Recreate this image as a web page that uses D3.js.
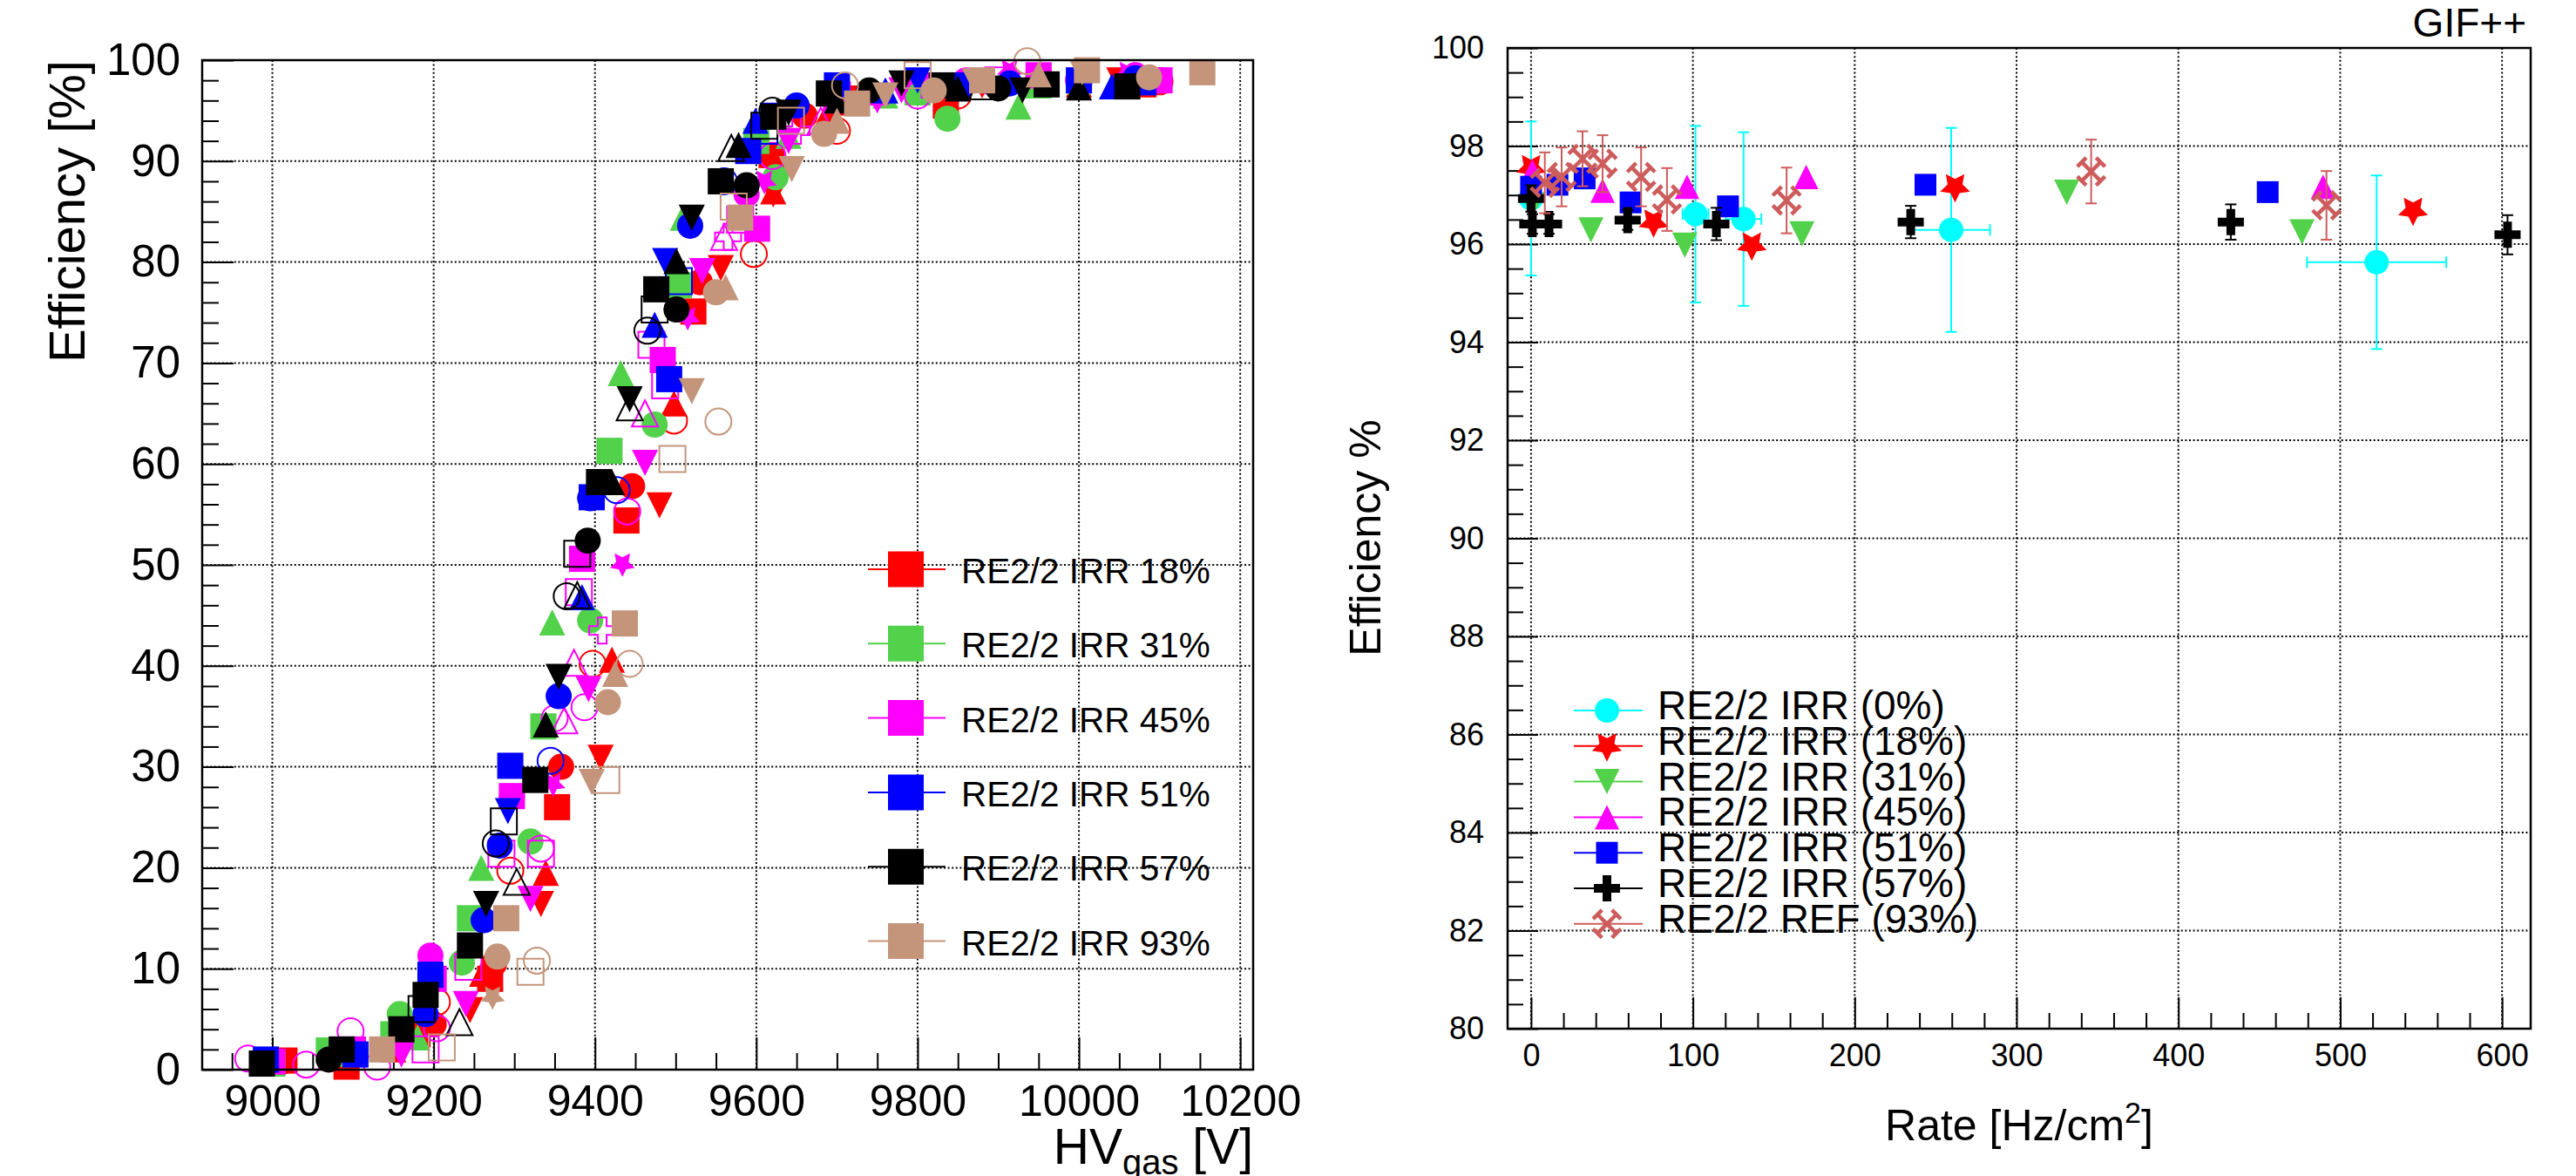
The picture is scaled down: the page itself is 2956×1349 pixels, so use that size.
<!DOCTYPE html>
<html lang="en">
<head>
<meta charset="utf-8">
<title>RE2/2 efficiency</title>
<script src="https://d3js.org/d3.v7.min.js"></script>
<style>
  body { margin: 0; background: #fff; }
  text { font-family: "Liberation Sans", Arial, Helvetica, sans-serif; fill: #000; }
</style>
</head>
<body>
<script>

// ---------- left panel: efficiency vs HV_gas, one array per scan [HV, eff] ----------
var irr18_sq = [[9015,0.9],[9092,0.3],[9180,3.5],[9270,9.0],[9353,26.0],[9439,54.4],[9522,75.1],[9619,90.6],[9700,95.8],[9835,95.5],[9950,97.8],[10080,97.6]];
var irr18_td = [[9100,1.2],[9245,5.9],[9333,16.4],[9407,30.9],[9480,55.9],[9556,79.4],[9621,86.7],[9720,96.2],[9880,97.5],[10050,98.0]];
var irr18_tu = [[9150,2.0],[9260,9.5],[9339,19.5],[9421,40.6],[9498,66.0],[9621,87.0],[9690,95.0],[9850,97.3],[10000,97.6]];
var irr18_ci = [[9200,4.5],[9275,10.5],[9358,30.0],[9446,57.8],[9530,78.0],[9660,94.5],[9800,97.0],[9950,98.2],[10090,98.1]];
var irr18_oc = [[9010,0.8],[9204,6.7],[9295,19.7],[9397,40.2],[9498,64.3],[9597,80.8],[9700,93.0],[9850,96.5],[10100,97.9]];

var irr31_sq = [[9000,0.6],[9070,1.9],[9150,3.5],[9245,15.0],[9336,34.0],[9418,61.3],[9504,77.7],[9600,92.0],[9700,96.5],[9800,96.8],[9950,97.5],[10080,98.0]];
var irr31_ci = [[9090,1.5],[9158,5.5],[9235,10.6],[9320,22.6],[9394,44.5],[9474,63.9],[9624,88.4],[9837,94.2],[10000,97.3]];
var irr31_tu = [[9180,3.2],[9259,20.0],[9347,44.3],[9432,69.0],[9509,84.4],[9640,92.5],[9760,96.5],[9925,95.4],[10080,98.3]];

var irr45_sq = [[9000,0.8],[9100,2.0],[9200,9.0],[9297,27.1],[9384,50.6],[9484,70.3],[9601,83.3],[9700,96.0],[9820,97.5],[9950,98.5],[10100,98.0]];
var irr45_oc = [[8970,1.1],[9042,0.5],[9097,3.8],[9130,0.3],[9204,4.1],[9333,21.9],[9350,34.8],[9387,35.9],[9440,55.3],[9620,90.5],[9800,96.5],[10000,98.0]];
var irr45_td = [[9160,1.5],[9240,6.5],[9320,16.9],[9392,37.7],[9462,60.1],[9533,79.1],[9640,92.0],[9780,97.0],[9950,98.3]];
var irr45_os = [[9190,2.0],[9243,10.2],[9284,21.4],[9333,21.4],[9380,47.3],[9470,71.8],[9487,67.8],[9580,84.2],[9700,96.5],[9900,98.0]];
var irr45_st = [[9348,28.3],[9434,50.1],[9515,74.5],[9610,88.0],[9750,96.0],[9914,99.0],[10060,98.8]];
var irr45_ot = [[9362,34.6],[9374,40.3],[9462,65.0],[9560,82.5],[9680,94.0]];
var irr45_ci = [[9196,11.3],[9297,27.0],[9588,86.7],[9860,98.0],[10070,98.5]];
var irr45_ox = [[9409,43.5],[9565,82.5],[9650,93.0]];

var irr51_sq = [[8992,1.0],[9103,1.5],[9196,9.4],[9295,30.1],[9396,56.7],[9492,68.4],[9590,91.0],[9700,97.5],[9850,97.5],[10000,98.0],[10080,97.8]];
var irr51_ci = [[9190,5.5],[9262,14.8],[9282,22.2],[9355,37.0],[9394,56.6],[9518,83.6],[9650,95.5],[9914,97.7],[10070,98.2]];
var irr51_tu = [[9100,2.0],[9384,46.8],[9474,73.8],[9599,94.0],[9760,97.0],[10041,97.4]];
var irr51_td = [[9292,25.6],[9487,80.1],[9620,94.5],[9800,98.0],[10010,98.4]];
var irr51_oc = [[9345,30.6],[9427,57.4],[9560,88.0]];
var irr51_os = [[9504,78.1],[9610,93.0]];

var irr57_sq = [[8987,0.6],[9086,2.0],[9160,4.0],[9190,7.4],[9245,12.3],[9326,28.7],[9405,58.2],[9476,77.3],[9556,88.0],[9621,94.4],[9690,96.7],[9830,97.5],[9960,97.6],[10060,97.4]];
var irr57_ci = [[9070,1.0],[9391,52.4],[9501,75.3],[9588,87.6],[9740,97.0],[9900,97.2]];
var irr57_tu = [[9339,34.2],[9421,58.2],[9501,80.1],[9578,91.6],[9700,96.0],[9850,97.2],[10000,97.3]];
var irr57_td = [[9265,16.4],[9355,38.9],[9443,66.4],[9520,84.4],[9640,94.8],[9780,97.7],[9930,97.0]];
var irr57_ot = [[9232,4.7],[9303,18.6],[9378,47.0],[9443,65.6],[9569,91.3],[9880,97.4]];
var irr57_oc = [[9277,22.4],[9365,46.9],[9465,73.2],[9620,95.0]];
var irr57_os = [[9185,6.0],[9287,24.6],[9378,51.1],[9474,75.3],[9610,93.5]];

var irr93_sq = [[9136,2.0],[9290,15.0],[9437,44.2],[9580,84.4],[9725,95.7],[9880,98.0],[10010,99.0],[10153,98.8]];
var irr93_ci = [[9279,11.2],[9416,36.4],[9550,77.0],[9684,92.7],[9820,97.0],[10087,98.3]];
var irr93_td = [[9396,28.5],[9520,67.2],[9644,89.2],[9760,96.5],[9871,97.9],[10004,98.8]];
var irr93_tu = [[9425,39.2],[9562,77.5],[9700,94.0],[9950,98.6]];
var irr93_os = [[9210,2.2],[9320,9.7],[9414,28.7],[9496,60.5],[9572,85.5],[9643,94.0],[9800,98.5]];
var irr93_oc = [[9328,10.8],[9443,40.2],[9553,64.2],[9710,97.5],[9936,99.9]];
var irr93_st = [[9273,7.2]];

var leftLegend = ["RE2/2 IRR 18%", "RE2/2 IRR 31%", "RE2/2 IRR 45%", "RE2/2 IRR 51%", "RE2/2 IRR 57%", "RE2/2 IRR 93%"];
var hvTicks = [9000, 9200, 9400, 9600, 9800, 10000, 10200];
var effTicksL = [0, 10, 20, 30, 40, 50, 60, 70, 80, 90, 100];

// ---------- right panel: efficiency vs rate ----------
var rate0  = [0, 101.6, 131.3, 259.6, 522.5];
var eff0   = [96.93, 96.61, 96.51, 96.29, 95.63];
var err0   = [1.57, 1.8, 1.77, 2.08, 1.77];
var xerr0  = [6, 8, 11, 24, 43];
var rate18 = [0, 75.7, 136.4, 262, 545];
var eff18  = [97.56, 96.45, 95.98, 97.17, 96.69];
var rate31 = [0.8, 37, 95, 167.4, 331, 476.4];
var eff31  = [96.8, 96.29, 95.98, 96.21, 97.06, 96.25];
var rate45 = [0.8, 44.2, 96.4, 170, 489.4];
var eff45  = [97.48, 97.09, 97.17, 97.37, 97.17];
var rate51 = [0, 16.3, 33.1, 61.5, 121.7, 243.7, 455.2];
var eff51  = [97.17, 97.21, 97.34, 96.85, 96.77, 97.21, 97.06];
var rate57 = [0, 0.8, 11.1, 59.7, 114.5, 234.6, 432.4, 603.4];
var eff57  = [96.93, 96.41, 96.41, 96.49, 96.41, 96.45, 96.45, 96.19];
var err57  = [0.27, 0.2, 0.2, 0.2, 0.33, 0.33, 0.36, 0.4];
var rate93 = [8.5, 18.9, 31.8, 44.2, 68, 84, 157.9, 346.1, 491.5];
var eff93  = [97.25, 97.37, 97.74, 97.64, 97.37, 96.91, 96.89, 97.48, 96.79];
var err93  = [0.62, 0.6, 0.56, 0.58, 0.6, 0.64, 0.67, 0.65, 0.7];

var rightLegend = ["RE2/2 IRR (0%)", "RE2/2 IRR (18%)", "RE2/2 IRR (31%)", "RE2/2 IRR (45%)", "RE2/2 IRR (51%)", "RE2/2 IRR (57%)", "RE2/2 REF (93%)"];
var rateTicks = [0, 100, 200, 300, 400, 500, 600];
var effTicksR = [80, 82, 84, 86, 88, 90, 92, 94, 96, 98, 100];

// colours
var cRed = "#ff0000", cGreen = "#52d14a", cMag = "#ff00ff", cBlue = "#0000ff",
    cBlack = "#000000", cBrown = "#c4957b", cCyan = "#00ffff", cRef = "#cd5c5c";

// ---------- marker shapes (ROOT-like) ----------
function markerPath(m, s) {
  var h = s / 2;
  if (m == "sq" || m == "os") return "M" + (-h) + "," + (-h) + "H" + h + "V" + h + "H" + (-h) + "Z";
  if (m == "ci" || m == "oc") return d3.symbol(d3.symbolCircle, Math.PI * h * h)();
  if (m == "tu" || m == "ot") return "M0," + (-h) + "L" + h + "," + h + "L" + (-h) + "," + h + "Z";
  if (m == "td") return "M0," + h + "L" + h + "," + (-h) + "L" + (-h) + "," + (-h) + "Z";
  if (m == "st") {
    var p = [];
    for (var k = 0; k < 10; k++) {
      var a = Math.PI / 2 + k * Math.PI / 5, r = k % 2 ? h * 0.5 : h;
      p.push([r * Math.cos(a), r * Math.sin(a)]);
    }
    return "M" + p.join("L") + "Z";
  }
  if (m == "cr" || m == "ox") {
    var t = s / 6;
    return "M" + (-t) + "," + (-h) + "H" + t + "V" + (-t) + "H" + h + "V" + t + "H" + t + "V" + h +
      "H" + (-t) + "V" + t + "H" + (-h) + "V" + (-t) + "H" + (-t) + "Z";
  }
  if (m == "as") {
    var r = h * 0.72, c = s * 0.17, d = "";
    [[1,1],[1,-1],[-1,1],[-1,-1]].forEach(function (q) {
      var ex = q[0] * r, ey = q[1] * r;
      d += "M0,0L" + ex + "," + ey;
      d += "M" + (ex - q[0] * c) + "," + (ey + q[1] * c) + "L" + (ex + q[0] * c) + "," + (ey - q[1] * c);
    });
    return d;
  }
}

function drawMarker(g, m, x, y, s, col) {
  var open = (m == "oc" || m == "os" || m == "ot" || m == "ox");
  var p = g.append("path").attr("d", markerPath(m, s)).attr("transform", "translate(" + x + "," + y + ")");
  if (m == "as") p.attr("fill", "none").attr("stroke", col).attr("stroke-width", 4.5);
  else if (open) p.attr("fill", "none").attr("stroke", col).attr("stroke-width", 2);
  else p.attr("fill", col);
}

var svg = d3.select("body").append("svg")
    .attr("width", 2956)
    .attr("height", 1349);

function styleAxis(g, size) {
  g.select(".domain").remove();
  g.selectAll("line").attr("stroke", "#000").attr("stroke-width", 2);
  g.selectAll("text").style("font-size", size + "px").attr("fill", "#000");
}

function grid(g, x, y, xt, yt, box) {
  g.selectAll(".gx").data(xt).enter().append("line")
      .attr("x1", d => x(d)).attr("x2", d => x(d))
      .attr("y1", box.top).attr("y2", box.bottom);
  g.selectAll(".gy").data(yt).enter().append("line")
      .attr("y1", d => y(d)).attr("y2", d => y(d))
      .attr("x1", box.left).attr("x2", box.right);
  g.selectAll("line").attr("stroke", "#000").attr("stroke-width", 2).attr("stroke-dasharray", "2,2.6");
}

// ====================== LEFT PANEL ======================
var L = {left: 232, right: 1438, top: 69, bottom: 1227};
var xL = d3.scaleLinear().domain([8913, 10216]).range([L.left, L.right]);
var yL = d3.scaleLinear().domain([0, 100]).range([L.bottom, L.top]);

grid(svg.append("g"), xL, yL, hvTicks, effTicksL.slice(1, -1), L);

var hvMinor = d3.range(8950, 10216, 50).filter(v => hvTicks.indexOf(v) < 0);
var effMinorL = d3.range(0, 101, 2).filter(v => v % 10 != 0);

svg.append("g").attr("transform", "translate(0," + L.bottom + ")")
    .call(d3.axisBottom(xL).tickValues(hvTicks).tickSize(-37).tickPadding(17).tickFormat(d3.format("d")))
    .call(g => styleAxis(g, 50));
svg.append("g").attr("transform", "translate(0," + L.bottom + ")")
    .call(d3.axisBottom(xL).tickValues(hvMinor).tickSize(-19).tickFormat(""))
    .call(g => styleAxis(g, 50));
svg.append("g").attr("transform", "translate(" + L.left + ",0)")
    .call(d3.axisLeft(yL).tickValues(effTicksL).tickSize(-36).tickPadding(25).tickFormat(d3.format("d")))
    .call(g => styleAxis(g, 51));
svg.append("g").attr("transform", "translate(" + L.left + ",0)")
    .call(d3.axisLeft(yL).tickValues(effMinorL).tickSize(-19).tickFormat(""))
    .call(g => styleAxis(g, 50));

var scans = [
  [irr18_sq, cRed, "sq"], [irr18_td, cRed, "td"], [irr18_tu, cRed, "tu"], [irr18_ci, cRed, "ci"], [irr18_oc, cRed, "oc"],
  [irr31_sq, cGreen, "sq"], [irr31_ci, cGreen, "ci"], [irr31_tu, cGreen, "tu"],
  [irr45_sq, cMag, "sq"], [irr45_oc, cMag, "oc"], [irr45_td, cMag, "td"], [irr45_os, cMag, "os"],
  [irr45_st, cMag, "st"], [irr45_ot, cMag, "ot"], [irr45_ci, cMag, "ci"], [irr45_ox, cMag, "ox"],
  [irr51_sq, cBlue, "sq"], [irr51_ci, cBlue, "ci"], [irr51_tu, cBlue, "tu"], [irr51_td, cBlue, "td"],
  [irr51_oc, cBlue, "oc"], [irr51_os, cBlue, "os"],
  [irr57_sq, cBlack, "sq"], [irr57_ci, cBlack, "ci"], [irr57_tu, cBlack, "tu"], [irr57_td, cBlack, "td"],
  [irr57_ot, cBlack, "ot"], [irr57_oc, cBlack, "oc"], [irr57_os, cBlack, "os"],
  [irr93_sq, cBrown, "sq"], [irr93_ci, cBrown, "ci"], [irr93_td, cBrown, "td"], [irr93_tu, cBrown, "tu"],
  [irr93_os, cBrown, "os"], [irr93_oc, cBrown, "oc"], [irr93_st, cBrown, "st"]
];

var gL = svg.append("g");
scans.forEach(function (sc) {
  sc[0].forEach(function (p) {
    drawMarker(gL, sc[2], xL(p[0]), yL(p[1]), 30, sc[1]);
  });
});

svg.append("rect").attr("x", L.left).attr("y", L.top)
    .attr("width", L.right - L.left).attr("height", L.bottom - L.top)
    .attr("fill", "none").attr("stroke", "#000").attr("stroke-width", 2.5);

// legend
var legColsL = [cRed, cGreen, cMag, cBlue, cBlack, cBrown];
leftLegend.forEach(function (t, i) {
  var cy = 653 + i * 85.3;
  svg.append("line").attr("x1", 996).attr("x2", 1085).attr("y1", cy).attr("y2", cy)
      .attr("stroke", legColsL[i]).attr("stroke-width", 2);
  drawMarker(svg, "sq", 1039.5, cy, 41, legColsL[i]);
  svg.append("text").attr("x", 1103).attr("y", cy + 16).style("font-size", "40.5px").text(t);
});

// titles
svg.append("text").attr("transform", "translate(97,69) rotate(-90)")
    .attr("text-anchor", "end").style("font-size", "58px").text("Efficiency [%]");
svg.append("text").attr("x", L.right).attr("y", 1335).attr("text-anchor", "end").style("font-size", "57px")
    .call(function (t) {
      t.append("tspan").text("HV");
      t.append("tspan").attr("dy", 12).style("font-size", "40px").text("gas");
      t.append("tspan").attr("dy", -12).text(" [V]");
    });

// ====================== RIGHT PANEL ======================
var R = {left: 1730, right: 2904, top: 55, bottom: 1180};
var xR = d3.scaleLinear().domain([-14.5, 617.7]).range([R.left, R.right]);
var yR = d3.scaleLinear().domain([80, 100]).range([R.bottom, R.top]);

grid(svg.append("g"), xR, yR, rateTicks, effTicksR.slice(1, -1), R);

var rateMinor = d3.range(0, 617, 20).filter(v => v % 100 != 0);
var effMinorR = d3.range(80, 100.01, 0.5).filter(v => v % 2 != 0);

svg.append("g").attr("transform", "translate(0," + R.bottom + ")")
    .call(d3.axisBottom(xR).tickValues(rateTicks).tickSize(-36).tickPadding(17).tickFormat(d3.format("d")))
    .call(g => styleAxis(g, 36));
svg.append("g").attr("transform", "translate(0," + R.bottom + ")")
    .call(d3.axisBottom(xR).tickValues(rateMinor).tickSize(-18).tickFormat(""))
    .call(g => styleAxis(g, 36));
svg.append("g").attr("transform", "translate(" + R.left + ",0)")
    .call(d3.axisLeft(yR).tickValues(effTicksR).tickSize(-35).tickPadding(27).tickFormat(d3.format("d")))
    .call(g => styleAxis(g, 36));
svg.append("g").attr("transform", "translate(" + R.left + ",0)")
    .call(d3.axisLeft(yR).tickValues(effMinorR).tickSize(-18).tickFormat(""))
    .call(g => styleAxis(g, 36));

var gR = svg.append("g");

function errBars(xs, ys, ye, xe, col) {
  xs.forEach(function (x, i) {
    var px = xR(x), py = yR(ys[i]);
    if (ye && ye[i]) {
      var y1 = yR(ys[i] + ye[i]), y2 = yR(ys[i] - ye[i]);
      gR.append("line").attr("x1", px).attr("x2", px).attr("y1", y1).attr("y2", y2)
          .attr("stroke", col).attr("stroke-width", 2);
      [y1, y2].forEach(function (yy) {
        gR.append("line").attr("x1", px - 6.5).attr("x2", px + 6.5).attr("y1", yy).attr("y2", yy)
            .attr("stroke", col).attr("stroke-width", 2);
      });
    }
    if (xe && xe[i]) {
      var x1 = xR(x - xe[i]), x2 = xR(x + xe[i]);
      gR.append("line").attr("x1", x1).attr("x2", x2).attr("y1", py).attr("y2", py)
          .attr("stroke", col).attr("stroke-width", 2);
      [x1, x2].forEach(function (xx) {
        gR.append("line").attr("x1", xx).attr("x2", xx).attr("y1", py - 6.5).attr("y2", py + 6.5)
            .attr("stroke", col).attr("stroke-width", 2);
      });
    }
  });
}

function points(xs, ys, m, s, col) {
  xs.forEach(function (x, i) { drawMarker(gR, m, xR(x), yR(ys[i]), s, col); });
}

var rightSeries = [
  [rate0, eff0, err0, xerr0, "ci", 28, cCyan],
  [rate18, eff18, null, null, "st", 36, cRed],
  [rate31, eff31, null, null, "td", 29, cGreen],
  [rate45, eff45, null, null, "tu", 28, cMag],
  [rate51, eff51, null, null, "sq", 25, cBlue],
  [rate57, eff57, err57, null, "cr", 30, cBlack],
  [rate93, eff93, err93, null, "as", 30, cRef]
];
rightSeries.forEach(function (s) {
  errBars(s[0], s[1], s[2], s[3], s[6]);
  points(s[0], s[1], s[4], s[5], s[6]);
});

svg.append("rect").attr("x", R.left).attr("y", R.top)
    .attr("width", R.right - R.left).attr("height", R.bottom - R.top)
    .attr("fill", "none").attr("stroke", "#000").attr("stroke-width", 2.5);

// legend
rightSeries.forEach(function (s, i) {
  var cy = 815 + i * 40.8;
  svg.append("line").attr("x1", 1806).attr("x2", 1885).attr("y1", cy).attr("y2", cy)
      .attr("stroke", s[6]).attr("stroke-width", 2);
  drawMarker(svg, s[4], 1844, cy, s[5], s[6]);
  svg.append("text").attr("x", 1902).attr("y", cy + 10).style("font-size", "46px").text(rightLegend[i]);
});

// titles
svg.append("text").attr("transform", "translate(1584,617) rotate(-90)")
    .attr("text-anchor", "middle").style("font-size", "50px").text("Efficiency %");
svg.append("text").attr("x", (R.left + R.right) / 2).attr("y", 1308).attr("text-anchor", "middle")
    .style("font-size", "50px")
    .call(function (t) {
      t.append("tspan").text("Rate [Hz/cm");
      t.append("tspan").attr("dy", -20).style("font-size", "34px").text("2");
      t.append("tspan").attr("dy", 20).text("]");
    });
svg.append("text").attr("x", 2899).attr("y", 42).attr("text-anchor", "end")
    .style("font-size", "46px").text("GIF++");

</script>
</body>
</html>
